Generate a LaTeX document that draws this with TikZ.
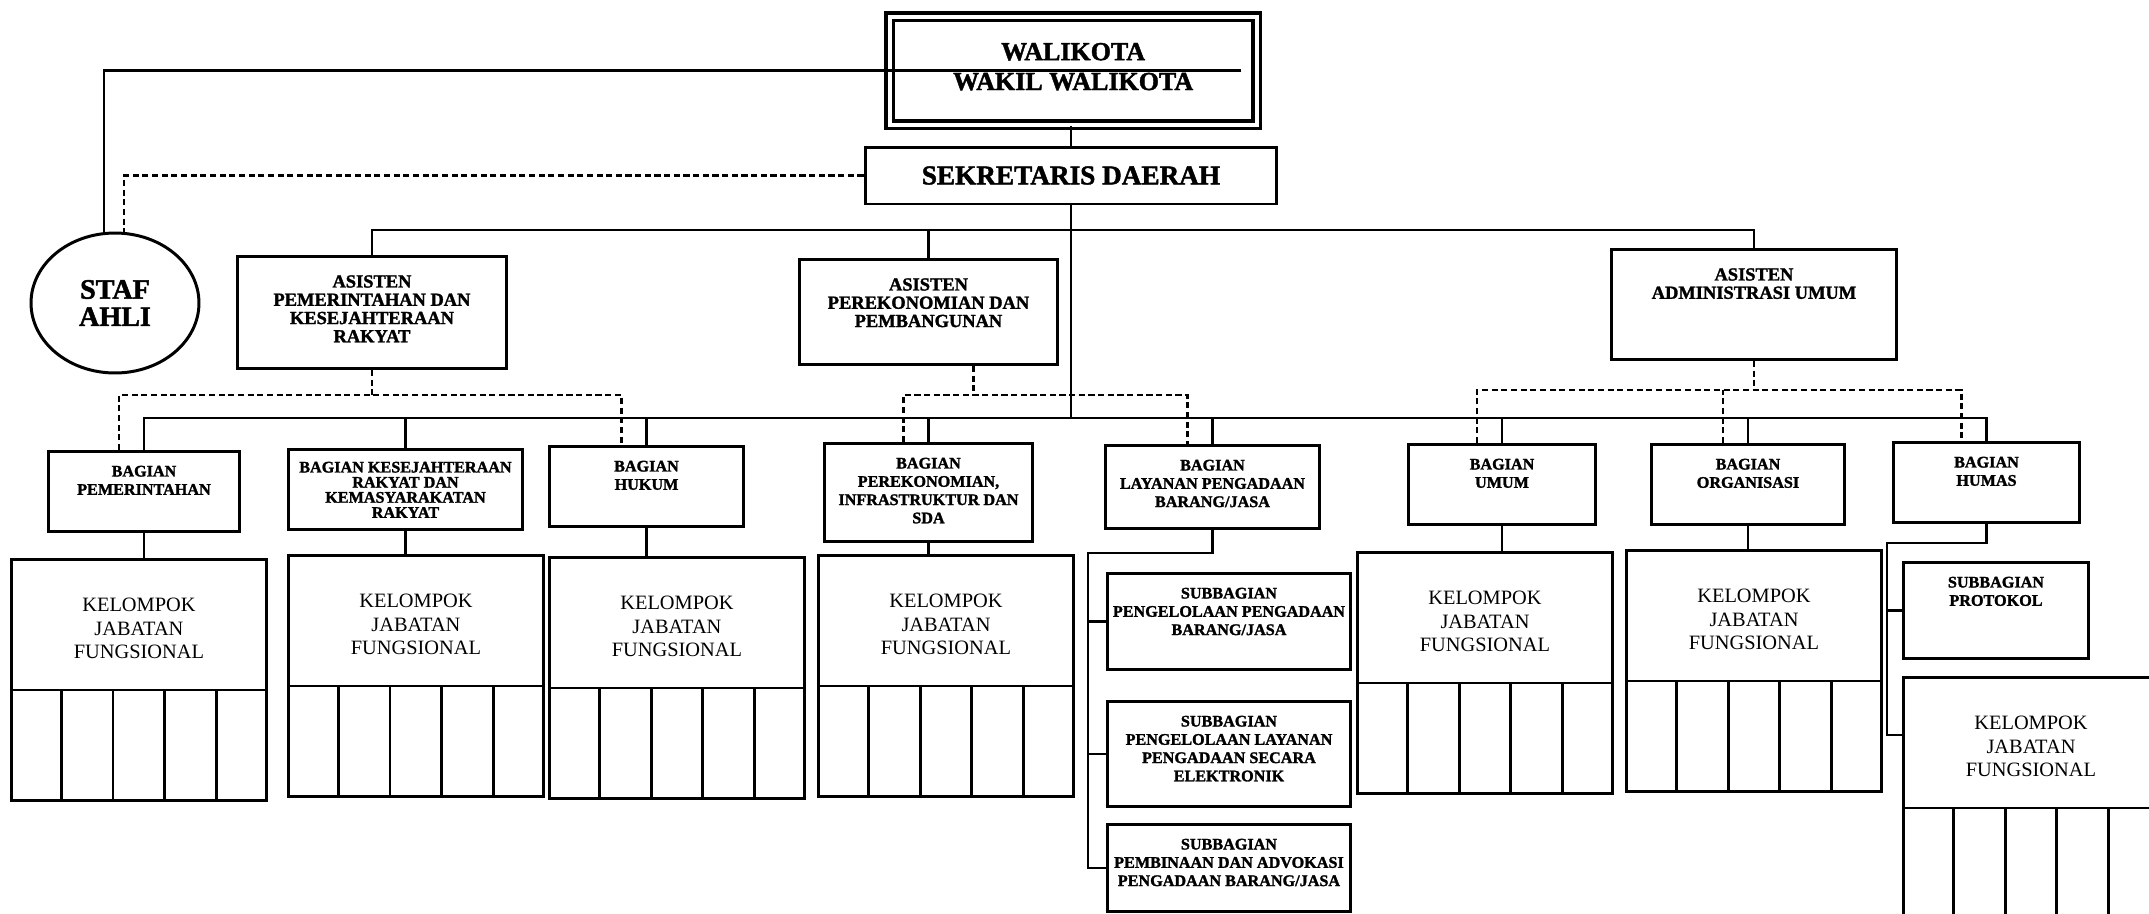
\documentclass[tikz,border=0pt]{standalone}
\usepackage{fontspec}
\setmainfont{Liberation Serif}[BoldFeatures={FakeBold=1.6}]
\usetikzlibrary{shapes.geometric,calc}

\tikzset{
	kotak/.style={draw, line width=1.7pt, inner sep=0pt, align=flush center, anchor=north west},
	asisten/.style={kotak, font=\fontsize{10.5}{10.4}\selectfont\bfseries, text height=.62cm},
	bagian/.style={kotak, font=\fontsize{9.2}{10.4}\selectfont\bfseries, text height=.5cm},
	jafung/.style={kotak, font=\fontsize{11.6}{13.4}\selectfont, text width=5.1cm, text height=1.04cm, text depth=3.78cm},
	garis/.style={line width=1.5pt},
	putus/.style={line width=1.4pt, dash pattern=on 3.5pt off 2pt},
}

\begin{document}
\begin{tikzpicture}[x=0.02cm, y=-0.02cm]
	\useasboundingbox (0,0) rectangle (2149,913);
	\node[kotak, double, double distance=2.2pt, line width=1.9pt, font=\fontsize{14.8}{17}\selectfont\bfseries, text width=7.34cm, text height=.87cm, text depth=1.29cm] (W) at (888,15) {WALIKOTA\\WAKIL WALIKOTA};
	\node[kotak, anchor=center, minimum width=8.24cm, minimum height=1.14cm, font=\fontsize{15.5}{17}\selectfont\bfseries] (D) at (1071,175.5) {SEKRETARIS DAERAH};
	\node[ellipse, draw, line width=1.7pt, minimum width=3.36cm, minimum height=2.8cm, inner sep=0pt, align=center, font=\fontsize{16}{15.5}\selectfont\bfseries] (SA) at (115,303) {STAF\\AHLI};

	\node[asisten, text width=5.38cm, text depth=1.62cm] (A1) at (236,255) {ASISTEN\\PEMERINTAHAN DAN\\KESEJAHTERAAN\\RAKYAT};
	\node[asisten, text width=5.16cm, text depth=1.48cm] (A2) at (798,258) {ASISTEN\\PEREKONOMIAN DAN\\PEMBANGUNAN};
	\node[asisten, text width=5.7cm, text depth=1.58cm] (A3) at (1610,248) {ASISTEN\\ADMINISTRASI UMUM};

	\node[bagian, text width=3.82cm, text depth=1.1cm] (B1) at (47,450) {BAGIAN\\PEMERINTAHAN};
	\node[bagian, text width=4.68cm, text height=.46cm, text depth=1.14cm, font=\fontsize{9.2}{8.6}\selectfont\bfseries] (B2) at (287,448) {BAGIAN KESEJAHTERAAN\\RAKYAT DAN\\KEMASYARAKATAN\\RAKYAT};
	\node[bagian, text width=3.88cm, text depth=1.1cm] (B3) at (548,445) {BAGIAN\\HUKUM};
	\node[bagian, text width=4.16cm, text depth=1.46cm] (B4) at (823,442) {BAGIAN\\PEREKONOMIAN,\\INFRASTRUKTUR DAN\\SDA};
	\node[bagian, text width=4.28cm, text depth=1.16cm] (B5) at (1104,444) {BAGIAN\\LAYANAN PENGADAAN\\BARANG/JASA};
	\node[bagian, text width=3.74cm, text depth=1.1cm] (B6) at (1407,443) {BAGIAN\\UMUM};
	\node[bagian, text width=3.86cm, text depth=1.1cm] (B7) at (1650,443) {BAGIAN\\ORGANISASI};
	\node[bagian, text width=3.72cm, text depth=1.1cm] (B8) at (1892,441) {BAGIAN\\HUMAS};

	\node[bagian, text width=4.86cm, text depth=1.42cm] (S1) at (1106,572) {SUBBAGIAN\\PENGELOLAAN PENGADAAN\\BARANG/JASA};
	\node[bagian, text width=4.86cm, text depth=1.6cm] (S2) at (1106,700) {SUBBAGIAN\\PENGELOLAAN LAYANAN\\PENGADAAN SECARA\\ELEKTRONIK};
	\node[bagian, text width=4.86cm, text depth=1.24cm] (S3) at (1106,823) {SUBBAGIAN\\PEMBINAAN DAN ADVOKASI\\PENGADAAN BARANG/JASA};
	\node[bagian, text width=3.7cm, text depth=1.42cm] (P) at (1902,561) {SUBBAGIAN\\PROTOKOL};

	\node[jafung] (K1) at (10,558) {KELOMPOK\\JABATAN\\FUNGSIONAL};
	\node[jafung] (K2) at (287,554) {KELOMPOK\\JABATAN\\FUNGSIONAL};
	\node[jafung] (K3) at (548,556) {KELOMPOK\\JABATAN\\FUNGSIONAL};
	\node[jafung] (K4) at (817,554) {KELOMPOK\\JABATAN\\FUNGSIONAL};
	\node[jafung] (K5) at (1356,551) {KELOMPOK\\JABATAN\\FUNGSIONAL};
	\node[jafung] (K6) at (1625,549) {KELOMPOK\\JABATAN\\FUNGSIONAL};
	\node[jafung] (K7) at (1902,676) {KELOMPOK\\JABATAN\\FUNGSIONAL};
	\foreach \kl in {K1,K2,K3,K4,K5,K6,K7}{
		\draw[garis] ([yshift=2.24cm]\kl.south west) -- ([yshift=2.24cm]\kl.south east);
		\foreach \i in {1,2,3,4}
			\draw[garis] ($(\kl.south west)!\i/5!(\kl.south east)$) -- +(0pt,2.24cm);
	}

	\coordinate (ab) at (0,230);
	\coordinate (bb) at (0,418);
	\coordinate (da) at (0,395);
	\coordinate (dc) at (0,390);
	\coordinate (lv) at (1088,553);
	\coordinate (hv) at (1887,543);
	\coordinate (k7) at ([yshift=-1.18cm]K7.north west);
	\coordinate (a2) at ([xshift=.9cm]A2.south);
	\foreach \bg in {B1,B3,B4,B5,B6,B7,B8}
		\coordinate (\bg-d) at ([xshift=-.5cm]\bg.north);

	\draw[garis] (D.north) -- (D.north |- W.south);
	\draw[garis] ([xshift=-.34cm]W.east) -| ([xshift=-.22cm]SA.north);
	\draw[putus] (D.west) -| ([xshift=.18cm]SA.north);
	\draw[garis] (D.south) -- (D.south |- bb);
	\draw[garis] (A1.north) |- (ab -| A3.north) -- (A3.north);
	\draw[garis] (A2.north) -- (A2.north |- ab);
	\draw[garis] (B1.north) |- (bb -| B8.north) -- (B8.north);
	\foreach \bg in {B2,B3,B4,B5,B6,B7}
		\draw[garis] (\bg.north) -- (\bg.north |- bb);

	\draw[putus] (A1.south) -- (A1.south |- da);
	\draw[putus] (B1-d) |- (da -| B3-d) -- (B3-d);
	\draw[putus] (a2) -- (a2 |- da);
	\draw[putus] (B4-d) |- (da -| B5-d) -- (B5-d);
	\draw[putus] (A3.south) -- (A3.south |- dc);
	\draw[putus] (B6-d) |- (dc -| B8-d) -- (B8-d);
	\draw[putus] (B7-d) -- (B7-d |- dc);

	\foreach \bg/\kl in {B1/K1,B2/K2,B3/K3,B4/K4,B6/K5,B7/K6}
		\draw[garis] (\bg.south) -- (\bg.south |- \kl.north);
	\draw[garis] (B5.south) |- (lv) |- (S3.west);
	\draw[garis] (S1.west) -- (S1.west -| lv);
	\draw[garis] (S2.west) -- (S2.west -| lv);
	\draw[garis] (B8.south) |- (hv) |- (k7);
	\draw[garis] (P.west) -- (P.west -| hv);
\end{tikzpicture}
\end{document}
